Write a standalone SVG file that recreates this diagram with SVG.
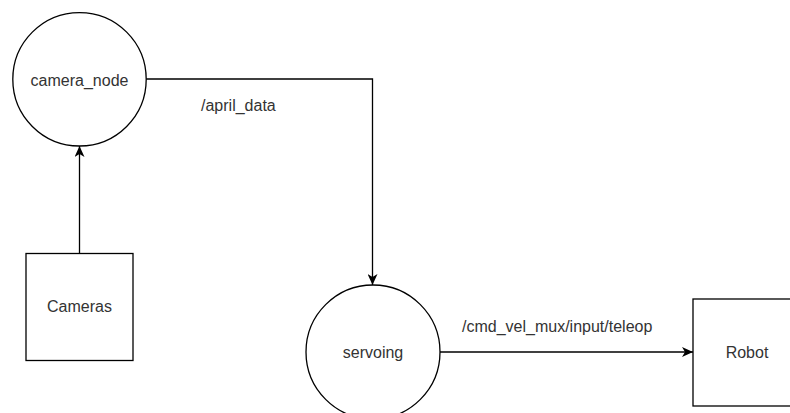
<svg xmlns="http://www.w3.org/2000/svg" width="790" height="413" viewBox="0 0 790 413">
<style>
.shape{fill:#fff;stroke:#000;stroke-width:1.3}
.lbl{font-family:"Liberation Sans",Arial,sans-serif;font-size:16px;fill:#333}
.mid{text-anchor:middle}
.edge{fill:none;stroke:#000;stroke-width:1.3}
</style>
<defs>
<marker id="arr" viewBox="0 0 11 10" refX="11" refY="5" markerWidth="11" markerHeight="10" markerUnits="userSpaceOnUse" orient="auto">
<path d="M0,0 L11,5 L0,10 L3,5 Z" fill="#000"/>
</marker>
</defs>
<rect width="790" height="413" fill="#fff"/>
<g id="connectors">
<path class="edge" d="M79.5,253 L79.5,146" marker-end="url(#arr)"/>
<path class="edge" d="M146,79 L372.5,79 L372.5,285" marker-end="url(#arr)"/>
<text class="lbl" x="201" y="111">/april_data</text>
<path class="edge" d="M440,352 L693,352" marker-end="url(#arr)"/>
<text class="lbl" x="462" y="331.5">/cmd_vel_mux/input/teleop</text>
</g>
<g id="camera_node">
<circle class="shape" cx="79.5" cy="79.3" r="66.7"/>
<text class="lbl mid" x="79.5" y="85.5">camera_node</text>
</g>
<g id="cameras">
<rect class="shape" x="26" y="253.5" width="107" height="107"/>
<text class="lbl mid" x="79.5" y="312">Cameras</text>
</g>
<g id="servoing">
<circle class="shape" cx="373" cy="352" r="67"/>
<text class="lbl mid" x="373" y="357.5">servoing</text>
</g>
<g id="robot">
<rect class="shape" x="693" y="299" width="107" height="107"/>
<text class="lbl mid" x="747" y="358">Robot</text>
</g>
</svg>
